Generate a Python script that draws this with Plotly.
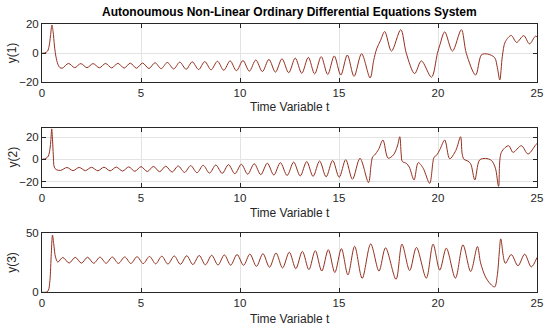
import plotly.graph_objects as go

# ---------------- data (key points of each curve) -------------
# shared oscillation timing (troughs / peaks of y(1)) in the spiral phase
t_trough = [1.02, 1.65, 2.27, 2.90, 3.52, 4.15, 4.77, 5.40, 6.02, 6.65, 7.28, 7.91, 8.54,
            9.18, 9.82, 10.47, 11.13, 11.79, 12.46, 13.12, 13.77, 14.43, 15.09, 15.76, 16.57]
t_peak = [1.34, 1.96, 2.58, 3.21, 3.83, 4.46, 5.08, 5.71, 6.33, 6.96, 7.59, 8.22, 8.86,
          9.50, 10.15, 10.80, 11.46, 12.12, 12.79, 13.45, 14.10, 14.76, 15.42, 16.14]

# y(1)
y1_start_t = [0, 0.15, 0.28, 0.36, 0.43, 0.50, 0.56, 0.63, 0.70, 0.80, 0.90]
y1_start_v = [0, 0.3, 1.5, 5.0, 12.0, 19.5, 15.0, 5.0, -2.0, -7.5, -9.8]
y1_trough_v = [-10.3, -9.9, -9.9, -10.0, -10.1, -10.2, -10.3, -10.5, -10.6, -10.8, -11.0, -11.2,
               -11.4, -11.7, -12.0, -12.3, -12.6, -13.0, -13.4, -13.8, -14.2, -14.6, -15.0,
               -15.9, -17.0]
y1_peak_v = [-7.0, -7.1, -7.1, -7.0, -6.9, -6.8, -6.7, -6.5, -6.3, -6.1, -5.9, -5.7, -5.5, -5.2,
             -5.0, -4.6, -4.2, -3.8, -3.3, -2.8, -2.3, -1.8, -1.2, -0.3]
y1_end_t = [16.75, 16.90, 17.10, 17.31, 17.65, 18.12, 18.40, 18.82, 19.16, 19.67, 19.97, 20.10,
            20.34, 20.73, 21.18, 21.43, 21.90, 22.20, 22.50, 22.86, 23.00, 23.12, 23.25, 23.40,
            23.70, 23.97, 24.33, 24.62, 24.92, 25.0]
y1_end_v = [-5.0, 3.0, 9.0, 15.0, 1.5, 16.3, 0.0, -14.0, -5.2, -16.5, 0.0, 6.0,
            14.8, 1.5, 16.3, 0.0, -15.0, -1.0, -0.5, -3.0, -10.0, -18.4, -2.0, 8.0,
            12.3, 7.5, 12.2, 6.5, 11.8, 11.3]

# y(2)
y2_start_t = [0, 0.20, 0.32, 0.40, 0.45, 0.49, 0.53, 0.57, 0.62, 0.72]
y2_start_v = [0, 0.8, 3.0, 9.0, 18.0, 27.5, 18.0, 4.0, -7.0, -9.3]
y2_lead = 0.08
y2_trough_v = [-10.0, -10.2, -10.2, -10.3, -10.4, -10.6, -10.8, -11.0, -11.2, -11.5, -11.8,
               -12.1, -12.4, -12.7, -13.0, -13.4, -13.8, -14.2, -14.6, -15.0, -15.4, -15.8,
               -16.2, -18.0, -21.0]
y2_peak_v = [-7.4, -7.3, -7.2, -7.1, -7.0, -6.8, -6.6, -6.4, -6.2, -6.0, -5.7, -5.4, -5.1, -4.8,
             -4.5, -4.0, -3.5, -3.0, -2.5, -2.0, -1.5, -1.0, -0.3, 0.9]
y2_end_t = [16.62, 16.70, 16.80, 17.00, 17.22, 17.48, 17.75, 17.95, 18.07, 18.14, 18.20, 18.40,
            18.55, 18.79, 19.00, 19.25, 19.58, 19.80, 19.92, 20.10, 20.34, 20.59, 20.90, 21.14,
            21.22, 21.31, 21.50, 21.65, 21.86, 22.10, 22.40, 22.70, 22.90, 23.06, 23.20, 23.57,
            23.79, 24.21, 24.55, 24.97, 25.0]
y2_end_v = [-5.0, 2.4, 3.9, 9.0, 17.4, 1.0, 4.0, 12.0, 20.4, 5.0, -2.0, -3.6,
            -7.0, -18.6, -3.0, -8.0, -21.6, 1.8, 3.5, 9.0, 17.4, 0.5, 8.0, 20.4,
            5.0, 0.0, -1.5, -4.0, -18.6, -0.6, 0.8, -1.0, -8.0, -24.5, 6.3, 12.3,
            6.3, 12.3, 4.8, 13.8, 13.7]

# y(3)
y3_start_t = [0, 0.25, 0.33, 0.40, 0.47, 0.53, 0.60, 0.68, 0.80]
y3_start_v = [0, 0.3, 2.0, 10.0, 33.0, 48.5, 40.0, 30.0, 25.6]
y3_lag = 0.03
y3_peak_v = [29.5, 29.6, 29.7, 29.8, 29.9, 30.0, 30.2, 30.4, 30.6, 30.8, 31.0, 31.2, 31.4, 31.7,
             32.0, 32.4, 32.7, 33.3, 34.0, 34.7, 35.3, 36.1, 37.0, 39.0, 41.0]
y3_trough_v = [24.8, 24.7, 24.6, 24.6, 24.5, 24.4, 24.3, 24.1, 23.9, 23.7, 23.5, 23.3, 23.1, 23.0,
               22.9, 22.0, 21.2, 20.6, 20.0, 19.2, 18.0, 16.8, 14.8, 11.8]
y3_end_t = [17.02, 17.35, 17.88, 18.18, 18.57, 18.91, 19.41, 19.75, 20.09, 20.42, 20.88, 21.26,
            21.65, 21.99, 22.15, 22.40, 22.65, 22.86, 23.00, 23.10, 23.17, 23.40, 23.70, 24.04,
            24.38, 24.71, 25.0]
y3_end_v = [18.0, 37.7, 11.0, 40.8, 18.4, 38.0, 12.0, 40.8, 18.8, 37.4, 12.0, 40.2,
            17.6, 38.8, 25.0, 13.0, 7.0, 4.5, 15.0, 35.0, 45.3, 24.6, 32.0, 22.5,
            32.3, 21.5, 29.5]

x_ticks = [0, 5, 10, 15, 20, 25]
y1_ticks = [-20, 0, 20]
y2_ticks = [-20, 0, 20]
y3_ticks = [0, 50]


def merge(first_t, first_v, first_kind_t, first_kind_v, second_t, second_v, end_t, end_v, shift):
    """Interleave two lists of extrema (already ordered in time) after a start segment."""
    ts, vs = list(first_t), list(first_v)
    n = max(len(first_kind_t), len(second_t))
    for i in range(n):
        if i < len(first_kind_t):
            ts.append(round(first_kind_t[i] + shift, 3))
            vs.append(first_kind_v[i])
        if i < len(second_t):
            ts.append(round(second_t[i] + shift, 3))
            vs.append(second_v[i])
    ts += end_t
    vs += end_v
    return ts, vs


t1, v1 = merge(y1_start_t, y1_start_v, t_trough, y1_trough_v, t_peak, y1_peak_v,
               y1_end_t, y1_end_v, 0.0)
t2, v2 = merge(y2_start_t, y2_start_v, t_trough, y2_trough_v, t_peak, y2_peak_v,
               y2_end_t, y2_end_v, -y2_lead)
t3, v3 = merge(y3_start_t, y3_start_v, t_trough, y3_peak_v, t_peak, y3_trough_v,
               y3_end_t, y3_end_v, y3_lag)

# ---------------- figure ----------------
W, H = 550, 330
LINE = "#93301f"
AX = "#262626"
GRID = "#e3e3e3"
FONT = "Liberation Sans, Arial, Helvetica, sans-serif"

fig = go.Figure()
for i, (tt, vv) in enumerate([(t1, v1), (t2, v2), (t3, v3)], start=1):
    fig.add_trace(go.Scatter(
        x=tt, y=vv, mode="lines",
        line=dict(color=LINE, width=1.0, shape="spline", smoothing=0.9),
        xaxis="x" if i == 1 else f"x{i}", yaxis="y" if i == 1 else f"y{i}",
        showlegend=False, hoverinfo="skip"))

x0, x1 = 42 / W, 537 / W
panels = [(24.3, 82.3), (128.3, 186.7), (233.3, 292.3)]
yranges = [[-20, 20], [-24.7, 28], [0, 50]]
yticks = [y1_ticks, y2_ticks, y3_ticks]

common_axis = dict(showline=True, linecolor=AX, linewidth=1, mirror="ticks",
                   ticks="inside", ticklen=4, tickwidth=1, tickcolor=AX,
                   showgrid=True, gridcolor=GRID, gridwidth=1, zeroline=False,
                   automargin=False,
                   tickfont=dict(family=FONT, size=11.5, color=AX))

layout = dict(width=W, height=H, margin=dict(l=0, r=0, t=0, b=0, autoexpand=False),
              paper_bgcolor="white", plot_bgcolor="white", showlegend=False)
for i, ((top, bot), yr, yt) in enumerate(zip(panels, yranges, yticks), start=1):
    xa = "xaxis" if i == 1 else f"xaxis{i}"
    ya = "yaxis" if i == 1 else f"yaxis{i}"
    xname = "y" if i == 1 else f"y{i}"
    yname = "x" if i == 1 else f"x{i}"
    layout[xa] = dict(common_axis, domain=[x0, x1], range=[0, 25], tickvals=x_ticks,
                      anchor=xname)
    layout[ya] = dict(common_axis, domain=[1 - bot / H, 1 - top / H], range=yr, tickvals=yt,
                      anchor=yname)

fig.update_layout(**layout)

cx = (42 + 537) / 2 / W
ann = [dict(text="<b>Autonoumous Non-Linear Ordinary Differential Equations System</b>",
            x=cx, y=1 - 12.5 / H, xref="paper", yref="paper", showarrow=False,
            font=dict(family=FONT, size=12, color="black"), xanchor="center", yanchor="middle")]
for ypix in [107, 213, 319]:
    ann.append(dict(text="Time Variable t", x=cx, y=1 - ypix / H, xref="paper", yref="paper",
                    showarrow=False, font=dict(family=FONT, size=12, color=AX),
                    xanchor="center", yanchor="middle"))
for label, (top, bot) in zip(["y(1)", "y(2)", "y(3)"], panels):
    ann.append(dict(text=label, x=12 / W, y=1 - (top + bot) / 2 / H, xref="paper", yref="paper",
                    showarrow=False, textangle=-90, font=dict(family=FONT, size=12, color=AX),
                    xanchor="center", yanchor="middle"))
fig.update_layout(annotations=ann)

fig.write_html("out.html",
               config={"displayModeBar": False, "staticPlot": True},
               post_script="document.body.style.margin='0';"
                           "document.body.style.overflow='hidden';")
